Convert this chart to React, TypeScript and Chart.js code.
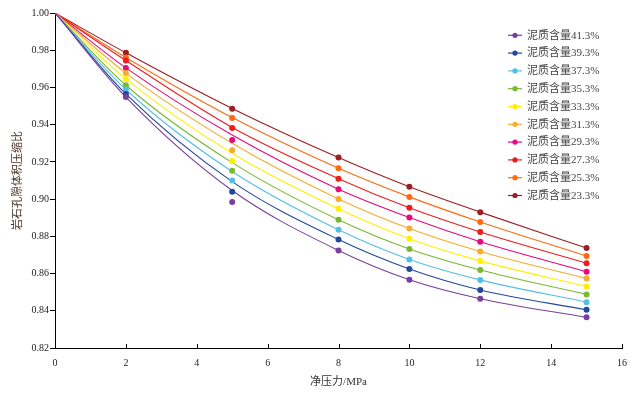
import React, { useEffect, useRef } from "react";
import { Chart, registerables } from "chart.js";

Chart.register(...registerables);

// Net pressure (MPa) at which samples were measured
const pressures = [2, 5, 8, 10, 12, 15];
// Positions of the fitted curve readings (MPa)
const fitPressures = [0, 2, 5, 8, 10, 12, 15];

const seriesLabels = [
  "泥质含量41.3%",
  "泥质含量39.3%",
  "泥质含量37.3%",
  "泥质含量35.3%",
  "泥质含量33.3%",
  "泥质含量31.3%",
  "泥质含量29.3%",
  "泥质含量27.3%",
  "泥质含量25.3%",
  "泥质含量23.3%",
];

const seriesColors = [
  "#7a3f9d",
  "#22489e",
  "#52c0e6",
  "#79b82f",
  "#fff000",
  "#f6ac2c",
  "#e6097f",
  "#ee1c1c",
  "#ff6a10",
  "#9a1e22",
];

// Measured points (pore volume compression ratio)
const m41_3 = [0.9548, 0.8985, 0.8724, 0.8567, 0.8465, 0.8365];
const m39_3 = [0.9565, 0.9039, 0.8783, 0.8625, 0.8512, 0.8405];
const m37_3 = [0.9589, 0.91, 0.8835, 0.8676, 0.8566, 0.8446];
const m35_3 = [0.9612, 0.9153, 0.8889, 0.8732, 0.8619, 0.8488];
const m33_3 = [0.9646, 0.9205, 0.8948, 0.8787, 0.8668, 0.8531];
const m31_3 = [0.9677, 0.9262, 0.9001, 0.8842, 0.8719, 0.8574];
const m29_3 = [0.9705, 0.9318, 0.9053, 0.8901, 0.8771, 0.861];
const m27_3 = [0.9745, 0.9382, 0.911, 0.8953, 0.8823, 0.8655];
const m25_3 = [0.9761, 0.9436, 0.9166, 0.9012, 0.8877, 0.8694];
const m23_3 = [0.9786, 0.9485, 0.9223, 0.9066, 0.893, 0.8737];

// Fitted curves
const f41_3 = [1, 0.9548, 0.9046, 0.8724, 0.8567, 0.8465, 0.8365];
const f39_3 = [1, 0.9565, 0.9094, 0.8783, 0.8625, 0.8512, 0.8405];
const f37_3 = [1, 0.9589, 0.9148, 0.8835, 0.8676, 0.8566, 0.8446];
const f35_3 = [1, 0.9612, 0.9196, 0.8889, 0.8732, 0.8619, 0.8488];
const f33_3 = [1, 0.9646, 0.9246, 0.8948, 0.8787, 0.8668, 0.8531];
const f31_3 = [1, 0.9677, 0.93, 0.9001, 0.8842, 0.8719, 0.8574];
const f29_3 = [1, 0.9705, 0.9344, 0.9053, 0.8901, 0.8771, 0.861];
const f27_3 = [1, 0.9745, 0.9385, 0.911, 0.8953, 0.8823, 0.8655];
const f25_3 = [1, 0.9761, 0.9438, 0.9166, 0.9012, 0.8877, 0.8694];
const f23_3 = [1, 0.9786, 0.9487, 0.9223, 0.9066, 0.893, 0.8737];

const measured = [m41_3, m39_3, m37_3, m35_3, m33_3, m31_3, m29_3, m27_3, m25_3, m23_3];
const fitted = [f41_3, f39_3, f37_3, f35_3, f33_3, f31_3, f29_3, f27_3, f25_3, f23_3];

const xTicks = [0, 2, 4, 6, 8, 10, 12, 14, 16];
const yTicks = [0.82, 0.84, 0.86, 0.88, 0.9, 0.92, 0.94, 0.96, 0.98, 1.0];

const FONT = "'Liberation Serif', 'Noto Sans CJK SC', serif";

const legendPlugin = {
  id: "customLegend",
  afterDraw(chart: any) {
    const ctx = chart.ctx;
    ctx.save();
    seriesLabels.forEach((label, i) => {
      const y = 35.3 + i * 17.8;
      const c = seriesColors[i];
      ctx.strokeStyle = c;
      ctx.lineWidth = 1.2;
      ctx.beginPath();
      ctx.moveTo(508, y);
      ctx.lineTo(522, y);
      ctx.stroke();
      ctx.fillStyle = c;
      ctx.beginPath();
      ctx.arc(515, y, 2.6, 0, Math.PI * 2);
      ctx.fill();
      ctx.fillStyle = "#444";
      ctx.font = `11px ${FONT}`;
      ctx.textBaseline = "middle";
      ctx.textAlign = "left";
      ctx.fillText(label, 527, y + 0.5);
    });
    ctx.restore();
  },
};

const innerTicksPlugin = {
  id: "innerTicks",
  afterDraw(chart: any) {
    const ctx = chart.ctx;
    const xs = chart.scales.x;
    const bottom = chart.chartArea.bottom;
    ctx.save();
    ctx.strokeStyle = "#000";
    ctx.lineWidth = 1;
    xTicks.forEach((v) => {
      if (v === 0) return;
      const px = Math.round(xs.getPixelForValue(v)) + 0.5;
      ctx.beginPath();
      ctx.moveTo(px, bottom);
      ctx.lineTo(px, bottom - 4);
      ctx.stroke();
    });
    ctx.restore();
  },
};

export default function App() {
  const ref = useRef<HTMLCanvasElement | null>(null);

  useEffect(() => {
    if (!ref.current) return;
    const markerSets = measured.map((vals, i) => ({
      type: "scatter" as const,
      label: seriesLabels[i],
      data: pressures.map((p, j) => ({ x: p, y: vals[j] })),
      showLine: false,
      pointRadius: 3,
      pointBorderWidth: 0,
      pointBackgroundColor: seriesColors[i],
      pointBorderColor: seriesColors[i],
      backgroundColor: seriesColors[i],
      borderColor: seriesColors[i],
    }));
    const curveSets = fitted.map((vals, i) => ({
      type: "scatter" as const,
      label: seriesLabels[i] + " fit",
      data: fitPressures.map((p, j) => ({ x: p, y: vals[j] })),
      showLine: true,
      pointRadius: 0,
      borderWidth: 1.1,
      borderColor: seriesColors[i],
      backgroundColor: seriesColors[i],
      cubicInterpolationMode: "monotone" as const,
    }));

    const chart = new Chart(ref.current, {
      type: "scatter",
      data: { datasets: [...markerSets, ...curveSets] as any },
      options: {
        animation: false,
        responsive: true,
        maintainAspectRatio: false,
        layout: { padding: { top: 13, right: 21, left: 0, bottom: 0 } },
        plugins: {
          legend: { display: false },
          tooltip: { enabled: false },
        },
        scales: {
          x: {
            type: "linear",
            min: 0,
            max: 16,
            afterBuildTicks: (s: any) => {
              s.ticks = xTicks.map((v) => ({ value: v }));
            },
            afterFit: (s: any) => {
              s.height = 45;
            },
            grid: { drawOnChartArea: false, drawTicks: false, color: "#000" },
            border: { display: true, color: "#000", width: 1 },
            ticks: {
              padding: 9,
              color: "#222",
              font: { family: FONT, size: 10 },
              callback: (v: any) => String(v),
            },
            title: {
              display: true,
              text: "净压力/MPa",
              color: "#333",
              font: { family: FONT, size: 11 },
              padding: { top: 0, bottom: 4 },
            },
          },
          y: {
            type: "linear",
            min: 0.82,
            max: 1.0,
            afterBuildTicks: (s: any) => {
              s.ticks = yTicks.map((v) => ({ value: v }));
            },
            afterFit: (s: any) => {
              s.width = 55;
            },
            grid: { drawOnChartArea: false, drawTicks: true, tickLength: 5, color: "#000" },
            border: { display: true, color: "#000", width: 1 },
            ticks: {
              padding: 1,
              color: "#222",
              font: { family: FONT, size: 10 },
              callback: (v: any) => Number(v).toFixed(2),
            },
            title: {
              display: true,
              text: "岩石孔隙体积压缩比",
              color: "#4a3528",
              font: { family: FONT, size: 11 },
              padding: { top: 12, bottom: 0 },
            },
          },
        },
      },
      plugins: [legendPlugin, innerTicksPlugin],
    });
    return () => chart.destroy();
  }, []);

  return (
    <div style={{ position: "absolute", left: 0, top: 0, width: 643, height: 393, background: "#fff" }}>
      <canvas ref={ref} />
    </div>
  );
}
